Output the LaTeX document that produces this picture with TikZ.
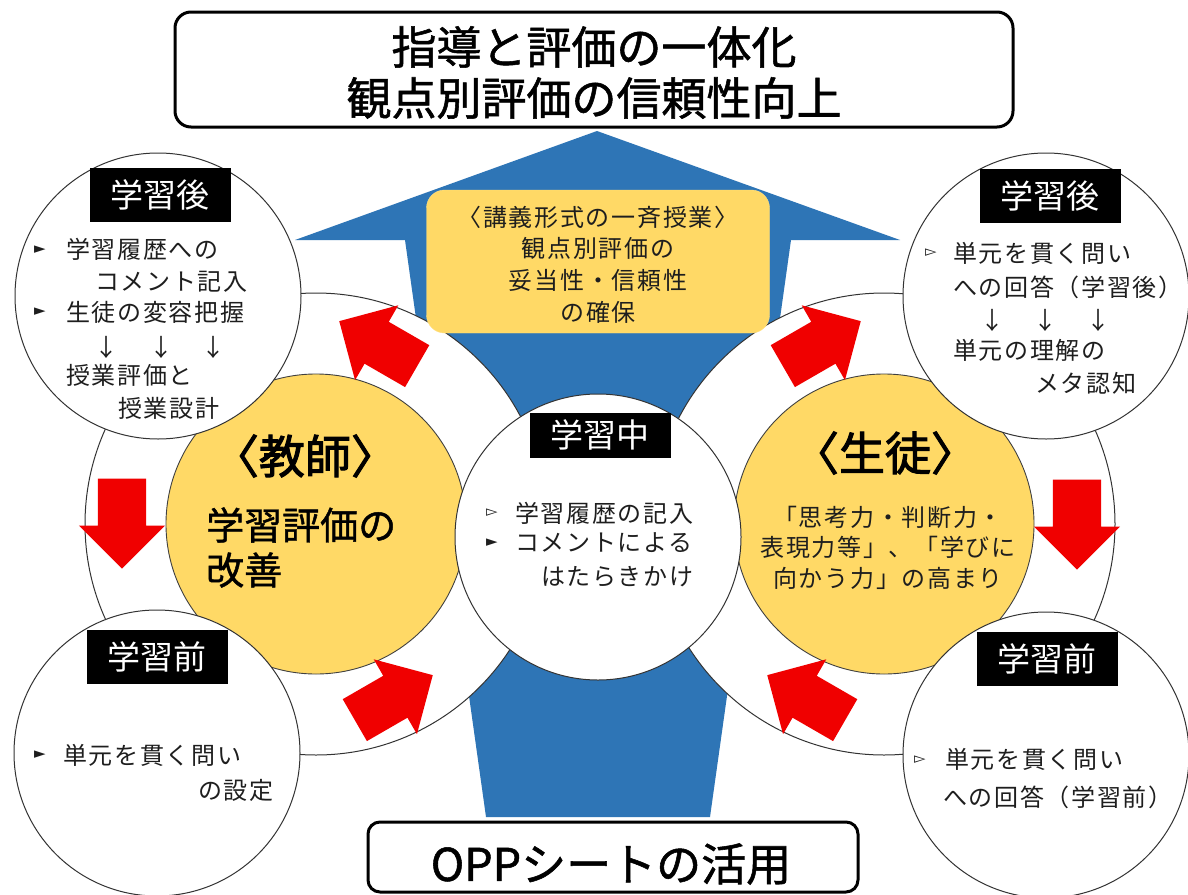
\documentclass[tikz,border=0pt]{standalone}
\usepackage{fontspec}
\setmainfont{Noto Sans CJK JP}
\newfontfamily\jp{Noto Sans CJK JP}
\newfontfamily\jpmed[FakeBold=1.2]{Noto Sans CJK JP}
\newfontfamily\jphv[FakeBold=2.2]{Noto Sans CJK JP}
\newfontfamily\jpls[LetterSpace=7]{Noto Sans CJK JP}
\newfontfamily\dv{DejaVu Sans}
\usetikzlibrary{shapes.arrows}
\definecolor{bblue}{RGB}{46,117,182}
\definecolor{ygold}{RGB}{255,217,102}
\definecolor{rred}{RGB}{240,0,0}
\definecolor{ink}{RGB}{30,30,30}
\begin{document}
\begin{tikzpicture}[x=1pt,y=-1pt,
  bigc/.style={circle, draw=black!80, line width=1pt, fill=white, inner sep=0pt, minimum size=462pt},
  ycirc/.style={circle, draw=black!75, line width=0.9pt, fill=ygold, inner sep=0pt, minimum size=300pt},
  smallc/.style={circle, draw=black!80, line width=1pt, fill=white, inner sep=0pt, minimum size=286pt},
  redarrow/.style={shape=single arrow, fill=rred, draw=none, inner xsep=0pt, inner ysep=24pt,
    text height=0pt, text depth=0pt, text width=0pt,
    minimum height=90pt, single arrow head extend=19pt, single arrow tip angle=90},
  lab/.style={fill=black, text=white, inner sep=0pt, minimum width=141pt, minimum height=54pt,
    font=\jp\fontsize{33}{36}\selectfont},
  body/.style={anchor=west, inner sep=0pt, text=ink, font=\jpls\fontsize{24}{28}\selectfont},
  darr/.style={inner sep=0pt, text=ink, font=\jp\fontsize{24}{28}\selectfont},
  fbul/.style={inner sep=0pt, text=ink, font=\dv\fontsize{15}{15}\selectfont},
  tbox/.style={draw=black, line width=3pt, rounded corners=16pt, fill=white, inner sep=0pt},
]
\useasboundingbox (0,0) rectangle (1188,894);
\clip (0,0) rectangle (1188,894);
\fill[white] (0,0) rectangle (1188,894);

% blue up arrow
\fill[bblue] (597,131) -- (900,240) -- (791,240) -- (710,817) -- (486,817) -- (405,240) -- (295,240) -- cycle;

% big rings
\node[bigc] (bigL) at (316,524) {};
\node[bigc] (bigR) at (884,524) {};

% yellow box on blue arrow
\node[fill=ygold, draw=ygold!80!white, rounded corners=18pt, inner sep=0pt, minimum width=343pt, minimum height=143pt] (ybox) at (598,261.5) {};
\node[inner sep=0pt, text=ink, align=center, font=\jpls\fontsize{24}{31.7}\selectfont] (yboxt) at (598,264.5)
  {〈講義形式の一斉授業〉\\観点別評価の\\妥当性・信頼性\\の確保};

% yellow circles
\node[ycirc] (yL) at (316,524) {};
\node[ycirc] (yR) at (884,524) {};

% centre circle
\node[smallc] (cC) at (598,537) {};

% small circles
\node[smallc] (cTL) at (158,296) {};
\node[smallc] (cTR) at (1046,296) {};
\node[smallc] (cBL) at (157,753) {};
\node[smallc] (cBR) at (1046,755) {};

% red block arrows
\node[redarrow, rotate=150, anchor=tip] (a1) at (339,321) {};
\node[redarrow, rotate=30, anchor=tip] (a2) at (861,321) {};
\node[redarrow, rotate=-90, anchor=tip] (a3) at (122,569) {};
\node[redarrow, rotate=-90, anchor=tip] (a4) at (1077,570) {};
\node[redarrow, rotate=30, anchor=tip] (a5) at (433,675) {};
\node[redarrow, rotate=150, anchor=tip] (a6) at (767,675) {};

% black labels
\node[lab] (lTL) at (160,195) {学習後};
\node[lab] (lTR) at (1050,196) {学習後};
\node[lab] (lBL) at (157,657) {学習前};
\node[lab] (lBR) at (1047,659) {学習前};
\node[lab, minimum height=45pt] (lC) at (600,435) {学習中};

% top-left circle text
\node[fbul] (b1) at (40,250) {►};
\node[body] (t1) at (66,249) {学習履歴への};
\node[body] (t2) at (95,282) {コメント記入};
\node[fbul] (b2) at (40,312) {►};
\node[body] (t3) at (66,312) {生徒の変容把握};
\node[darr] (d1) at (106,347) {↓};
\node[darr] (d2) at (161,347) {↓};
\node[darr] (d3) at (213,347) {↓};
\node[body] (t4) at (66,375) {授業評価と};
\node[body] (t5) at (118,408) {授業設計};

% top-right circle text
\node[fbul] (b3) at (931,253) {▻};
\node[body] (t6) at (953,253) {単元を貫く問い};
\node[body] (t7) at (953,287) {への回答（学習後）};
\node[darr] (d4) at (992,320) {↓};
\node[darr] (d5) at (1045,320) {↓};
\node[darr] (d6) at (1098,320) {↓};
\node[body] (t8) at (953,350) {単元の理解の};
\node[body] (t9) at (1035,383) {メタ認知};

% centre circle text
\node[fbul] (b4) at (492,513) {▻};
\node[body] (t10) at (515,513) {学習履歴の記入};
\node[fbul] (b5) at (492,543) {►};
\node[body] (t11) at (515,543) {コメントによる};
\node[body] (t12) at (541,577) {はたらきかけ};

% bottom-left circle text
\node[fbul] (b6) at (40,755) {►};
\node[body] (t13) at (63,755) {単元を貫く問い};
\node[body] (t14) at (198,790) {の設定};

% bottom-right circle text
\node[fbul] (b7) at (920,760) {▻};
\node[body] (t15) at (945,759) {単元を貫く問い};
\node[body] (t16) at (943,797) {への回答（学習前）};

% teacher
\node[inner sep=0pt, text=black, font=\jphv\fontsize{46}{50}\selectfont] (tchr) at (305,456) {〈教師〉};
\node[anchor=west, inner sep=0pt, text=black, font=\jpmed\fontsize{38}{42}\selectfont] (tchr2) at (206,525) {学習評価の};
\node[anchor=west, inner sep=0pt, text=black, font=\jpmed\fontsize{38}{42}\selectfont] (tchr3) at (206,570) {改善};

% student
\node[inner sep=0pt, text=black, font=\jphv\fontsize{46}{50}\selectfont] (stu) at (885,453) {〈生徒〉};
\node[inner sep=0pt, text=ink, align=center, font=\jpls\fontsize{24}{30.5}\selectfont] (stu2) at (888,547.5)
  {「思考力・判断力・\\表現力等」、「学びに\\向かう力」の高まり};

% title boxes
\node[tbox, minimum width=838pt, minimum height=115pt] (top) at (594,69.5) {};
\node[inner sep=0pt, align=center, text=black, font=\jpmed\fontsize{45}{51}\selectfont] (topt) at (594,72.5)
  {指導と評価の一体化\\観点別評価の信頼性向上};
\node[tbox, rounded corners=12pt, minimum width=490pt, minimum height=70pt] (bot) at (613,857) {};
\node[inner sep=0pt, text=black, font=\jpmed\fontsize{45}{50}\selectfont] (bott) at (611,864) {OPPシートの活用};
\end{tikzpicture}
\end{document}
